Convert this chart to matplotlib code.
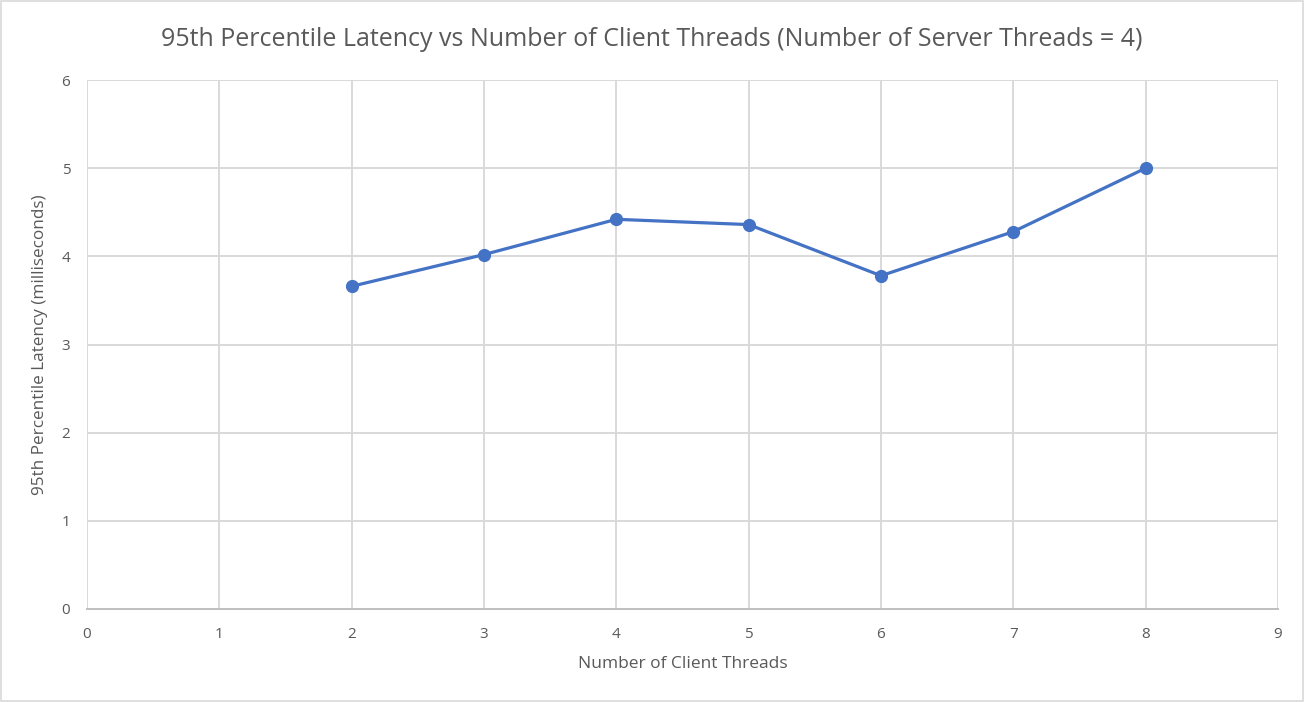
import matplotlib.pyplot as plt

# data
client_threads = [2, 3, 4, 5, 6, 7, 8]
latency_p95 = [3.66, 4.02, 4.42, 4.36, 3.78, 4.28, 5.0]
x_ticks = list(range(0, 10))
y_ticks = list(range(0, 7))

plt.rcParams['font.family'] = ['Open Sans', 'DejaVu Sans']
text_col = '#595959'
grid_col = '#D9D9D9'

fig = plt.figure(figsize=(13.04, 7.02), dpi=100)
ax = fig.add_axes([87 / 1304, 1 - 609 / 702, (1278 - 87) / 1304, (609 - 80) / 702])

ax.plot(client_threads, latency_p95, color='#4472C4', lw=2.3,
        marker='o', markersize=8.5, zorder=3)

ax.set_xlim(0, 9)
ax.set_ylim(0, 6)
ax.set_xticks(x_ticks)
ax.set_yticks(y_ticks)
ax.grid(True, color=grid_col, lw=1.4)
ax.set_axisbelow(True)
for s in ['top', 'right', 'left']:
    ax.spines[s].set_visible(False)
ax.spines['bottom'].set_color('#BFBFBF')
ax.spines['bottom'].set_linewidth(1.4)
ax.tick_params(length=0, labelsize=11, labelcolor=text_col, pad=13)
ax.tick_params(axis='y', pad=12)

ax.set_xlabel('Number of Client Threads', fontsize=12.5, color=text_col, labelpad=10)
ax.set_ylabel('95th Percentile Latency (milliseconds)', fontsize=12.3, color=text_col, labelpad=10)
fig.text(0.5, 1 - 40 / 702, '95th Percentile Latency vs Number of Client Threads (Number of Server Threads = 4)',
         ha='center', va='center', fontsize=18, color=text_col)

# light border round the whole chart
fig.patches.append(plt.Rectangle((0.001, 0.001), 0.998, 0.998, transform=fig.transFigure,
                                 fill=False, edgecolor='#D9D9D9', lw=1.2))

fig.savefig('out.png', dpi=100)
